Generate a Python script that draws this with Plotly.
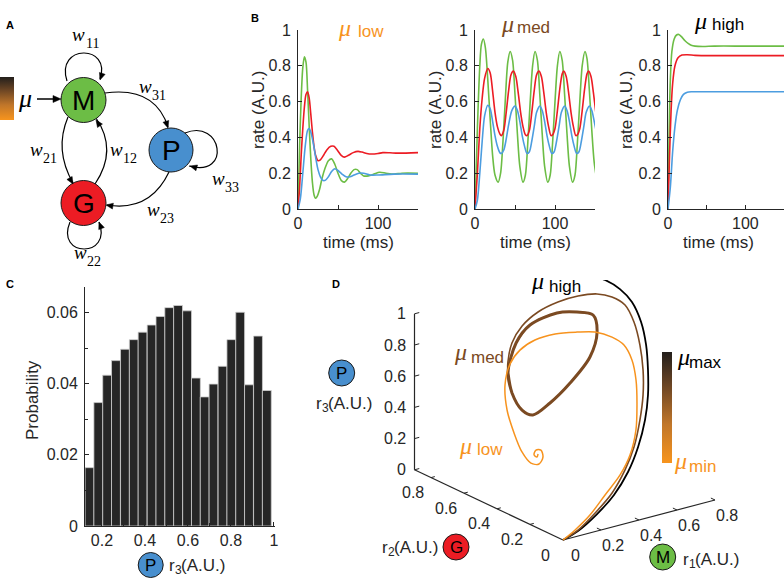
import math
import plotly.graph_objects as go

# ---------------- data ----------------
# Panel B: rates (A.U.) vs time (ms); M = green, G = red, P = blue
t_low_M = [0, 2, 4, 6, 8, 10, 12, 14, 16, 18, 20, 22, 24, 27, 30, 34, 38, 42, 46, 50, 54, 58, 62, 66, 70, 74, 78, 82, 88, 95, 102, 110, 120, 130, 150]
low_M = [0, 0.35, 0.62, 0.79, 0.85, 0.82, 0.66, 0.46, 0.28, 0.15, 0.08, 0.06, 0.07, 0.11, 0.17, 0.23, 0.27, 0.28, 0.25, 0.2, 0.16, 0.15, 0.17, 0.2, 0.22, 0.22, 0.2, 0.185, 0.185, 0.195, 0.205, 0.2, 0.195, 0.2, 0.2]
t_low_G = [0, 2, 4, 6, 8, 10, 12, 14, 16, 18, 20, 22, 25, 28, 32, 36, 41, 45, 49, 54, 58, 63, 69, 75, 80, 86, 92, 100, 106, 115, 125, 150]
low_G = [0, 0.12, 0.3, 0.45, 0.57, 0.64, 0.655, 0.62, 0.53, 0.43, 0.35, 0.3, 0.27, 0.275, 0.3, 0.33, 0.35, 0.35, 0.33, 0.3, 0.29, 0.3, 0.315, 0.322, 0.318, 0.31, 0.307, 0.31, 0.315, 0.314, 0.312, 0.315]
t_low_P = [0, 3, 6, 9, 12, 14, 16, 19, 22, 25, 28, 31, 34, 38, 42, 46, 50, 55, 60, 65, 70, 76, 82, 90, 100, 120, 150]
low_P = [0, 0.06, 0.2, 0.35, 0.44, 0.45, 0.43, 0.37, 0.29, 0.22, 0.18, 0.16, 0.16, 0.18, 0.21, 0.225, 0.215, 0.195, 0.18, 0.18, 0.19, 0.2, 0.2, 0.19, 0.19, 0.195, 0.195]

t_med_M = [0, 3, 6, 8, 10.5, 13, 16, 19, 22, 25, 29, 32, 35, 38, 41, 44, 47, 50, 53, 56, 60, 63, 66, 69, 72, 75, 78, 81, 84, 87, 91, 94, 97, 100, 103, 106, 109, 112, 115, 118, 122, 125, 128, 131, 134, 137.5, 140, 143, 146, 149, 152]
med_M = [0, 0.45, 0.8, 0.92, 0.95, 0.9, 0.72, 0.5, 0.3, 0.19, 0.15, 0.2, 0.38, 0.62, 0.82, 0.88, 0.83, 0.64, 0.42, 0.24, 0.15, 0.19, 0.37, 0.6, 0.8, 0.88, 0.83, 0.64, 0.42, 0.24, 0.15, 0.19, 0.37, 0.6, 0.8, 0.88, 0.83, 0.64, 0.42, 0.24, 0.15, 0.19, 0.37, 0.6, 0.8, 0.88, 0.84, 0.66, 0.44, 0.26, 0.17]
t_med_G = [0, 3, 6, 9, 12, 16, 19, 22, 25, 28, 31, 33, 36, 39, 42, 45, 48, 51, 54, 57, 60, 63, 65, 68, 71, 74, 77, 80, 83, 86, 89, 92, 95, 97, 100, 103, 106, 109, 111, 114, 117, 120, 123, 126, 128, 131, 134, 137, 140, 142, 145, 148, 151, 153]
med_G = [0, 0.2, 0.45, 0.62, 0.73, 0.785, 0.76, 0.66, 0.54, 0.46, 0.42, 0.41, 0.44, 0.54, 0.66, 0.75, 0.77, 0.74, 0.65, 0.54, 0.46, 0.415, 0.41, 0.44, 0.54, 0.66, 0.75, 0.77, 0.74, 0.65, 0.54, 0.46, 0.41, 0.415, 0.45, 0.55, 0.67, 0.755, 0.77, 0.74, 0.65, 0.54, 0.46, 0.41, 0.415, 0.45, 0.55, 0.67, 0.755, 0.77, 0.74, 0.65, 0.54, 0.48]
t_med_P = [0, 3, 6, 9, 12, 16, 19, 22, 25, 28, 31, 33, 36, 39, 42, 46, 50, 53, 56, 59, 62, 65, 68, 71, 74, 77, 81, 84, 87, 90, 93, 96, 99, 102, 105, 108, 112, 115, 118, 121, 124, 127, 130, 133, 136, 139, 143, 146, 149, 153]
med_P = [0, 0.05, 0.2, 0.38, 0.52, 0.58, 0.56, 0.49, 0.41, 0.35, 0.315, 0.31, 0.33, 0.39, 0.47, 0.55, 0.575, 0.55, 0.49, 0.41, 0.35, 0.31, 0.32, 0.38, 0.46, 0.54, 0.575, 0.55, 0.49, 0.41, 0.35, 0.31, 0.32, 0.38, 0.46, 0.54, 0.575, 0.55, 0.49, 0.41, 0.35, 0.31, 0.32, 0.38, 0.46, 0.54, 0.575, 0.55, 0.49, 0.4]

t_high_M = [0, 1, 2, 3, 5, 8, 11, 14, 18, 22, 26, 30, 35, 45, 60, 100, 150]
high_M = [0, 0.3, 0.55, 0.72, 0.88, 0.95, 0.972, 0.975, 0.96, 0.94, 0.925, 0.915, 0.91, 0.908, 0.91, 0.91, 0.91]
t_high_G = [0, 2, 4, 6, 9, 13, 18, 25, 35, 50, 150]
high_G = [0, 0.3, 0.55, 0.7, 0.8, 0.845, 0.86, 0.862, 0.858, 0.857, 0.857]
t_high_P = [0, 3, 6, 9, 12, 16, 20, 25, 30, 40, 150]
high_P = [0, 0.12, 0.32, 0.46, 0.55, 0.61, 0.64, 0.652, 0.655, 0.655, 0.655]

time_ticks = [0, 100]
time_minor_ticks = [50, 150]
rate_ticks = [0, 0.2, 0.4, 0.6, 0.8, 1]
rate_ticktext = ["0", "0.2", "0.4", "0.6", "0.8", "1"]

# Panel C: histogram of r3
c_centers = [0.142, 0.183, 0.224, 0.265, 0.307, 0.348, 0.389, 0.431, 0.472, 0.513, 0.554, 0.596, 0.637, 0.678, 0.719, 0.761, 0.802, 0.843, 0.884, 0.926, 0.967]
c_prob = [0.0164, 0.0347, 0.0424, 0.0465, 0.0497, 0.0524, 0.0545, 0.0565, 0.0589, 0.0614, 0.0620, 0.0605, 0.0416, 0.0363, 0.0399, 0.0449, 0.0524, 0.0601, 0.0397, 0.0534, 0.0381]
c_bin_width = 0.04125
c_xticks = [0.2, 0.4, 0.6, 0.8, 1]
c_xticktext = ["0.2", "0.4", "0.6", "0.8", "1"]
c_xminor = [0.3, 0.5, 0.7, 0.9]
c_yticks = [0, 0.02, 0.04, 0.06]
c_yticktext = ["0", "0.02", "0.04", "0.06"]
c_yminor = [0.01, 0.03, 0.05]

# Panel D: trajectories in (r1, r2, r3)
low_r1 = [0, 0.107, 0.246, 0.395, 0.561, 0.7, 0.818, 0.867, 0.888, 0.884, 0.842, 0.779, 0.672, 0.551, 0.436, 0.33, 0.225, 0.155, 0.103, 0.079, 0.081, 0.088, 0.109, 0.134, 0.155, 0.153, 0.127, 0.117, 0.132, 0.138]
low_r2 = [0, 0.05, 0.12, 0.2, 0.3, 0.4, 0.5, 0.55, 0.58, 0.6, 0.6, 0.6, 0.58, 0.55, 0.55, 0.55, 0.52, 0.5, 0.47, 0.43, 0.39, 0.35, 0.32, 0.3, 0.3, 0.31, 0.31, 0.31, 0.31, 0.31]
low_r3 = [0, 0.005, 0.021, 0.062, 0.087, 0.12, 0.193, 0.312, 0.451, 0.571, 0.68, 0.751, 0.828, 0.881, 0.906, 0.901, 0.885, 0.828, 0.726, 0.593, 0.465, 0.361, 0.298, 0.294, 0.332, 0.372, 0.381, 0.353, 0.335, 0.352]

high_r1 = [0, 0.105, 0.266, 0.442, 0.62, 0.786, 0.866, 0.925, 0.925, 0.941, 0.932, 0.936, 0.925, 0.916, 0.899]
high_r2 = [0, 0.03, 0.1, 0.2, 0.32, 0.45, 0.5, 0.55, 0.55, 0.58, 0.6, 0.66, 0.72, 0.8, 0.86]
high_r3 = [0, 0.009, 0.031, 0.047, 0.077, 0.119, 0.242, 0.358, 0.518, 0.659, 0.799, 0.896, 0.952, 0.973, 0.974]

med_r1 = [0, 0.105, 0.261, 0.432, 0.587, 0.721, 0.839, 0.899, 0.925, 0.926, 0.912, 0.891, 0.848, 0.787, 0.704, 0.616, 0.52, 0.436, 0.374, 0.318]
med_r2 = [0, 0.03, 0.1, 0.2, 0.3, 0.4, 0.5, 0.55, 0.58, 0.6, 0.62, 0.65, 0.68, 0.7, 0.72, 0.74, 0.75, 0.75, 0.74, 0.7]
med_r3 = [0, 0.015, 0.046, 0.063, 0.111, 0.165, 0.25, 0.367, 0.504, 0.653, 0.795, 0.896, 0.946, 0.975, 0.978, 0.958, 0.92, 0.857, 0.773, 0.689]

cyc_r1 = [0.301, 0.27, 0.262, 0.276, 0.331, 0.428, 0.55, 0.631, 0.662, 0.638, 0.576, 0.469, 0.387]
cyc_r2 = [0.68, 0.62, 0.55, 0.5, 0.46, 0.45, 0.47, 0.52, 0.58, 0.65, 0.7, 0.74, 0.73]
cyc_r3 = [0.634, 0.546, 0.474, 0.463, 0.542, 0.644, 0.762, 0.871, 0.94, 0.932, 0.921, 0.858, 0.774]

d_r1_ticks = [0, 0.2, 0.4, 0.6, 0.8]
d_r2_ticks = [0, 0.2, 0.4, 0.6, 0.8]
d_r3_ticks = [0, 0.2, 0.4, 0.6, 0.8, 1]
d_r1_max, d_r2_max, d_r3_max = 0.8, 0.9, 1.0

mu_range = [0, 1]

# ---------------- styling ----------------
W, H = 784, 579
FONT = "Liberation Sans, Arial, sans-serif"
SERIF = "Liberation Serif, Times New Roman, serif"
AXC = "#262626"
C_M, C_G, C_P = "#6cbd45", "#ec1c24", "#4c9de0"
N_M, N_G, N_P = "#6cbd45", "#ec1c24", "#488fce"
ORANGE, BROWN, BLACK = "#f7931e", "#7b4a22", "#000000"
MU_SCALE = [[0, "#f7941d"], [0.35, "#c0762a"], [0.7, "#6b4524"], [1, "#231f1c"]]


def fx(px):
    return px / W


def fy(py):
    return 1 - py / H


fig = go.Figure()

# ---------------- panel B ----------------
b_panels = [
    (1, 298, 418, (t_low_M, low_M), (t_low_G, low_G), (t_low_P, low_P)),
    (2, 475, 595, (t_med_M, med_M), (t_med_G, med_G), (t_med_P, med_P)),
    (3, 668, 784, (t_high_M, high_M), (t_high_G, high_G), (t_high_P, high_P)),
]
tickfont = dict(family=FONT, size=16, color=AXC)
for idx, x0, x1, sm, sg, sp in b_panels:
    for (tt, vv), col in ((sm, C_M), (sg, C_G), (sp, C_P)):
        fig.add_trace(go.Scatter(x=tt, y=vv, mode="lines", line=dict(color=col, width=1.6, shape="spline", smoothing=0.8),
                                 xaxis=f"x{idx}", yaxis=f"y{idx}", showlegend=False, hoverinfo="skip"))
    fig.layout[f"xaxis{idx}"] = dict(domain=[fx(x0), fx(x1)], range=[0, 150], anchor=f"y{idx}", showline=True,
                                      linecolor=AXC, linewidth=1, ticks="inside", ticklen=4, tickcolor=AXC,
                                      tickvals=time_ticks, tickfont=tickfont,
                                      minor=dict(tickvals=time_minor_ticks, ticks="inside", ticklen=4, tickcolor=AXC),
                                      showgrid=False, zeroline=False, fixedrange=True)
    fig.layout[f"yaxis{idx}"] = dict(domain=[fy(209), fy(30)], range=[0, 1], anchor=f"x{idx}", showline=True,
                                      linecolor=AXC, linewidth=1, ticks="inside", ticklen=4, tickcolor=AXC,
                                      tickvals=rate_ticks, ticktext=rate_ticktext, tickfont=tickfont,
                                      showgrid=False, zeroline=False, fixedrange=True, ticklabelstandoff=3)

# ---------------- panel C ----------------
fig.add_trace(go.Bar(x=c_centers, y=c_prob, width=c_bin_width, marker=dict(color="#262626", line=dict(color="#cfcfcf", width=0.8)),
                     xaxis="x4", yaxis="y4", showlegend=False, hoverinfo="skip"))
fig.layout["xaxis4"] = dict(domain=[fx(85), fx(275)], range=[0.121, 1.005], anchor="y4", showline=True, linecolor=AXC,
                            linewidth=1, ticks="inside", ticklen=4, tickcolor=AXC, tickvals=c_xticks, ticktext=c_xticktext,
                            tickfont=tickfont, showgrid=False, zeroline=False, fixedrange=True,
                            minor=dict(tickvals=c_xminor, ticks="inside", ticklen=3, tickcolor=AXC))
fig.layout["yaxis4"] = dict(domain=[fy(526), fy(287)], range=[0, 0.0672], anchor="x4", showline=True, linecolor=AXC,
                            linewidth=1, ticks="inside", ticklen=4, tickcolor=AXC, tickvals=c_yticks, ticktext=c_yticktext,
                            tickfont=tickfont, showgrid=False, zeroline=False, fixedrange=True, ticklabelstandoff=3,
                            minor=dict(tickvals=c_yminor, ticks="inside", ticklen=3, tickcolor=AXC))

# ---------------- panel D (oblique projection of 3-D axes) ----------------
E1X, E1Y, E2X, E2Y, E3Y = 190, 50, -165, 78, 156
OX, OY = 563, 540


def proj(r1, r2, r3):
    u = [E1X * a + E2X * b for a, b in zip(r1, r2)]
    v = [E1Y * a + E2Y * b + E3Y * c for a, b, c in zip(r1, r2, r3)]
    return u, v


def dline(r1, r2, r3, color, width):
    u, v = proj(r1, r2, r3)
    fig.add_trace(go.Scatter(x=u, y=v, mode="lines", line=dict(color=color, width=width, shape="spline", smoothing=0.9),
                             xaxis="x5", yaxis="y5", showlegend=False, hoverinfo="skip"))


for r1, r2, r3 in (([0, d_r1_max], [0, 0], [0, 0]), ([0, 0], [0, d_r2_max], [0, 0]), ([0, 0], [d_r2_max, d_r2_max], [0, d_r3_max])):
    u, v = proj(r1, r2, r3)
    fig.add_trace(go.Scatter(x=u, y=v, mode="lines", line=dict(color=AXC, width=1.2), xaxis="x5", yaxis="y5",
                             showlegend=False, hoverinfo="skip"))
tu, tv = [], []
for k in d_r3_ticks:
    u, v = proj([0, 0.025], [d_r2_max, d_r2_max], [k, k]); tu += u + [None]; tv += v + [None]
for k in d_r2_ticks[1:]:
    u, v = proj([0, 0.02], [k, k], [0, 0]); tu += u + [None]; tv += v + [None]
for k in d_r1_ticks[1:]:
    u, v = proj([k, k], [0, 0.025], [0, 0]); tu += u + [None]; tv += v + [None]
fig.add_trace(go.Scatter(x=tu, y=tv, mode="lines", line=dict(color=AXC, width=1), xaxis="x5", yaxis="y5",
                         showlegend=False, hoverinfo="skip"))

dline(high_r1, high_r2, high_r3, BLACK, 1.8)
dline(med_r1 + cyc_r1, med_r2 + cyc_r2, med_r3 + cyc_r3, BROWN, 1.6)
dline(cyc_r1 + cyc_r1[:2], cyc_r2 + cyc_r2[:2], cyc_r3 + cyc_r3[:2], BROWN, 3.0)
dline(low_r1, low_r2, low_r3, ORANGE, 1.5)

fig.layout["xaxis5"] = dict(domain=[fx(300), 1], range=[300 - OX, W - OX], anchor="y5", visible=False, fixedrange=True)
fig.layout["yaxis5"] = dict(domain=[0, fy(280)], range=[OY - H, OY - 280], anchor="x5", visible=False, fixedrange=True)

annotations = []


def dtick_label(r1, r2, r3, text, xs, ys, xanchor="center"):
    u, v = proj([r1], [r2], [r3])
    annotations.append(dict(x=u[0], y=v[0], xref="x5", yref="y5", text=text, showarrow=False, xshift=xs, yshift=ys,
                            xanchor=xanchor, font=dict(family=FONT, size=16, color=AXC)))


for k in d_r3_ticks:
    dtick_label(0, d_r2_max, k, f"{k:g}", -7, 0, "right")
for k in d_r2_ticks:
    dtick_label(0, k, 0, f"{k:g}", -18, -15)
for k in d_r1_ticks:
    dtick_label(k, 0, 0, f"{k:g}", 12, -15)

# ---------------- overlay (pixel space) for diagram and labels ----------------
fig.layout["xaxis6"] = dict(domain=[0, 1], range=[0, W], anchor="y6", visible=False, fixedrange=True)
fig.layout["yaxis6"] = dict(domain=[0, 1], range=[H, 0], anchor="x6", visible=False, fixedrange=True)

# colorbars (mu scale)
for x0, thick, yc, ln in ((0, 14, 98.5, 43), (661.7, 10, 407, 111)):
    fig.add_trace(go.Scatter(x=[-50, -50], y=[-50, -50], mode="markers", xaxis="x6", yaxis="y6", showlegend=False,
                             hoverinfo="skip",
                             marker=dict(color=mu_range, cmin=mu_range[0], cmax=mu_range[1], colorscale=MU_SCALE, size=1,
                                         showscale=True,
                                         colorbar=dict(x=fx(x0), xanchor="left", y=fy(yc), yanchor="middle",
                                                       thickness=thick, len=ln, lenmode="pixels", xpad=0, ypad=0,
                                                       outlinewidth=0, showticklabels=False, ticks=""))))

shapes = []


def path(d, width=1.2):
    shapes.append(dict(type="path", path=d, xref="x6", yref="y6", line=dict(color="black", width=width)))


def arrowhead(hx, hy, dx, dy, length=7, half=3):
    n = math.hypot(dx, dy)
    ux, uy = dx / n, dy / n
    bx, by = hx - ux * length, hy - uy * length
    p1 = (bx - uy * half, by + ux * half)
    p2 = (bx + uy * half, by - ux * half)
    shapes.append(dict(type="path", path=f"M {hx},{hy} L {p1[0]:.2f},{p1[1]:.2f} L {p2[0]:.2f},{p2[1]:.2f} Z",
                       xref="x6", yref="y6", fillcolor="black", line=dict(color="black", width=0.5)))


def node(cx, cy, r, fill, letter, size):
    shapes.append(dict(type="circle", xref="x6", yref="y6", x0=cx - r, x1=cx + r, y0=cy - r, y1=cy + r,
                       fillcolor=fill, line=dict(color="#1a1a1a", width=1)))
    annotations.append(dict(x=cx, y=cy, xref="x6", yref="y6", text=letter, showarrow=False,
                            font=dict(family=FONT, size=size, color="black")))


def text(x, y, s, size=16, color=AXC, family=FONT, angle=0, xanchor="center"):
    annotations.append(dict(x=x, y=y, xref="x6", yref="y6", text=s, showarrow=False, textangle=angle, xanchor=xanchor,
                            font=dict(family=family, size=size, color=color)))


def wlabel(cx, cy, sub):
    text(cx - 6.5, cy - 4, "<i>w</i>", 19, "black", SERIF)
    text(cx + 7, cy + 5, sub, 14, "black", SERIF)


def rlabel(x0, cy, sub, size=17):
    text(x0, cy, "r", size, AXC, FONT, xanchor="left")
    text(x0 + 0.333 * size, cy + 5, sub, 12, AXC, FONT, xanchor="left")
    text(x0 + 0.333 * size + 6.8, cy, "(A.U.)", size, AXC, FONT, xanchor="left")


# panel A network
path("M 67,81 C 55,44 112,44 100,79")
path("M 105,93 Q 155,86 168,127")
path("M 68,117 Q 54,150 73,183")
path("M 95,184 Q 118,150 96,118")
path("M 169,172 Q 150,212 107,205")
path("M 185,133 C 222,118 232,178 189,166")
path("M 70,222 C 55,258 113,258 99,222")
path("M 37,99 L 55,99", 1.5)
node(83.5, 100, 22.5, N_M, "M", 28)
node(83.5, 203, 22.5, N_G, "G", 28)
node(171, 150, 22, N_P, "P", 28)
arrowhead(100, 80, -12, 35)
arrowhead(168, 128, 13, 41)
arrowhead(73, 184, 19, 33)
arrowhead(96, 120, -22, -32)
arrowhead(106, 205, -43, -7)
arrowhead(190, 166, -43, -12)
arrowhead(99, 222, -14, -36)
arrowhead(61, 99, 1, 0, 8, 3.5)
text(25, 98, "<i>μ</i>", 26, "black", SERIF)
for (lx, ly, sub) in ((85, 38, "11"), (152, 90, "31"), (43, 153, "21"), (123, 153, "12"), (225, 182, "33"),
                      (160, 213, "23"), (87, 256, "22")):
    wlabel(lx, ly, sub)

# panel letters
for lx, ly, s in ((10, 25, "A"), (255, 18, "B"), (10, 284, "C"), (336, 284, "D")):
    text(lx, ly, f"<b>{s}</b>", 11, "black")

# panel B titles and axis labels
for (mx, my, sx, sy, s, col) in ((344, 28, 371, 31, "low", ORANGE), (507, 24, 533, 27, "med", BROWN),
                                 (700, 21, 728, 24, "high", "black")):
    text(mx, my, "<i>μ</i>", 24, col, SERIF)
    text(sx, sy, s, 17, col)
for xc in (358, 535, 718):
    text(xc, 242, "time (ms)", 17)
for xc in (258, 435, 626):
    text(xc, 110, "rate (A.U.)", 17, angle=-90)

# panel C labels
text(32, 400, "Probability", 17, angle=-90)
node(150.7, 565, 12.5, N_P, "P", 17)
rlabel(167, 565, "3")

# panel D labels
node(341.7, 373, 13, N_P, "P", 17)
rlabel(314, 403, "3")
node(456, 547, 13, N_G, "G", 17)
rlabel(380, 547, "2")
node(662.7, 557, 13, N_M, "M", 17)
rlabel(681, 559, "1")
for (mx, my, sx, sy, s, col) in ((537, 281, 565, 286, "high", "black"), (460, 352, 487, 357, "med", BROWN),
                                 (465, 446, 490, 449, "low", ORANGE)):
    text(mx, my, "<i>μ</i>", 24, col, SERIF)
    text(sx, sy, s, 17, col)
text(683, 357, "<i>μ</i>", 24, "black", SERIF)
text(705, 362, "max", 17, "black")
text(680, 461, "<i>μ</i>", 24, ORANGE, SERIF)
text(702, 466, "min", 17, ORANGE)

fig.update_layout(width=W, height=H, margin=dict(l=0, r=0, t=0, b=0, autoexpand=False), paper_bgcolor="white",
                  plot_bgcolor="rgba(0,0,0,0)", showlegend=False, shapes=shapes, annotations=annotations,
                  font=dict(family=FONT, color=AXC))

fig.write_html("out.html", config={"displayModeBar": False, "staticPlot": True},
               post_script="document.body.style.margin='0px';document.body.style.overflow='hidden';")
